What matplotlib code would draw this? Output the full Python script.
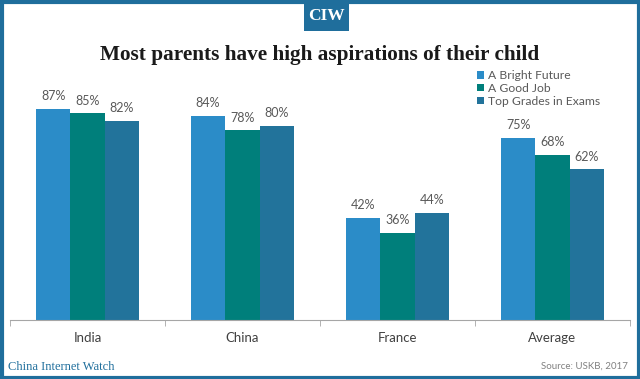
import matplotlib
matplotlib.use("Agg")
import matplotlib.pyplot as plt
import numpy as np
from matplotlib.patches import Rectangle

categories = ["India", "China", "France", "Average"]
series_names = ["A Bright Future", "A Good Job", "Top Grades in Exams"]
bright_future = [87, 84, 42, 75]
good_job = [85, 78, 36, 68]
top_grades = [82, 80, 44, 62]
colors = ["#2B8CC8", "#007F7B", "#22739B"]

W, H = 640, 379
fig = plt.figure(figsize=(W / 100, H / 100), dpi=100)
fig.patch.set_facecolor("white")

# border frame
fig.add_artist(Rectangle((1.5 / W, 1.5 / H), 1 - 3 / W, 1 - 3 / H, transform=fig.transFigure,
                         fill=False, edgecolor="#1F6E9C", linewidth=3))
# CIW box
fig.add_artist(Rectangle((304 / W, 1 - 31 / H), 45 / W, 31 / H, transform=fig.transFigure,
                         facecolor="#1F6E9C", edgecolor="none"))
fig.text(326.5 / W, 1 - 16 / H, "CIW", ha="center", va="center", color="white",
         fontsize=12.5, fontweight="bold", family="Liberation Serif")
fig.text(0.5, 1 - 55 / H, "Most parents have high aspirations of their child", ha="center",
         va="center", fontsize=15.3, fontweight="bold", family="Liberation Serif", color="#1a1a1a")

ax = fig.add_axes([10 / W, 59 / H, 620 / W, 243 / H])
x = np.arange(len(categories))
bw = 0.222
data = [bright_future, good_job, top_grades]
for i, (vals, name, c) in enumerate(zip(data, series_names, colors)):
    pos = x + (i - 1) * bw
    bars = ax.bar(pos, vals, bw, color=c, label=name)
    for xp, v in zip(pos, vals):
        ax.text(xp, v + 2.8, f"{v}%", ha="center", va="bottom", fontsize=9,
                color="#595959", family="Lato")

ax.set_xlim(-0.5, len(categories) - 0.5)
ax.set_ylim(0, 100)
for s in ["top", "right", "left"]:
    ax.spines[s].set_visible(False)
ax.spines["bottom"].set_color("#A6A6A6")
ax.set_yticks([])
ax.set_xticks(x)
ax.set_xticklabels(categories, fontsize=9.5, color="#404040", family="Lato")
ax.tick_params(axis="x", length=0, pad=9)
ax.set_xticks(np.arange(-0.5, len(categories)), minor=True)
ax.tick_params(axis="x", which="minor", length=4, color="#A6A6A6")

leg = fig.legend(loc="upper left", bbox_to_anchor=(477 / W, 1 - 70 / H), frameon=False,
                 handlelength=0.6, handleheight=0.6, handletextpad=0.3,
                 labelspacing=0.15, borderaxespad=0, borderpad=0, prop={"family": "Lato", "size": 8.7})
for t in leg.get_texts():
    t.set_color("#595959")

fig.text(8 / W, 1 - 367 / H, "China Internet Watch", ha="left", va="center", fontsize=9,
         color="#1F6E9C", family="Liberation Serif")
fig.text(628 / W, 1 - 366 / H, "Source: USKB, 2017", ha="right", va="center", fontsize=7,
         color="#808080", family="Lato")

fig.savefig("out.png", dpi=100, facecolor="white")
